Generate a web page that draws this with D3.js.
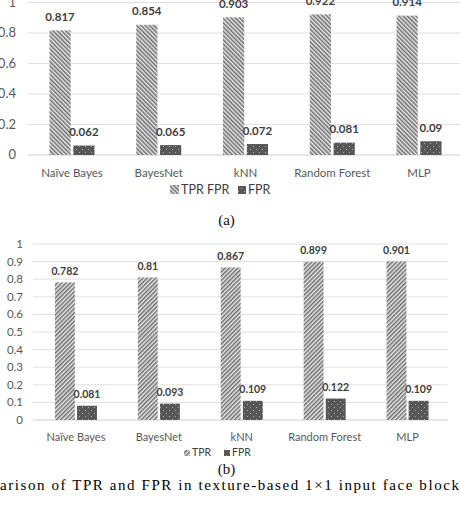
<!DOCTYPE html>
<html>
<head>
<meta charset="utf-8">
<script src="https://cdn.jsdelivr.net/npm/d3@7"></script>
<style>
  body { margin: 0; background: #fff; }
  svg { display: block; }
</style>
</head>
<body>
<div id="my_dataviz"></div>
<script>
// data
let categories = ["Naïve Bayes", "BayesNet", "kNN", "Random Forest", "MLP"];
let seriesNames = ["TPR", "FPR"];

// (a)
let tprA = [0.817, 0.854, 0.903, 0.922, 0.914];
let fprA = [0.062, 0.065, 0.072, 0.081, 0.09];
let ticksA = [0, 0.2, 0.4, 0.6, 0.8, 1];
let labelsA = ["0", "0.2", "0.4", "0.6", "0.8", "1"];

// (b)
let tprB = [0.782, 0.81, 0.867, 0.899, 0.901];
let fprB = [0.081, 0.093, 0.109, 0.122, 0.109];
let ticksB = [0, 0.1, 0.2, 0.3, 0.4, 0.5, 0.6, 0.7, 0.8, 0.9, 1];
let labelsB = ["0", "0.1", "0.2", "0.3", "0.4", "0.5", "0.6", "0.7", "0.8", "0.9", "1"];

let width = 460, height = 508;

let svg = d3.select("#my_dataviz")
    .append("svg")
    .attr("width", width)
    .attr("height", height);

// patterns
let defs = svg.append("defs");
function addHatch(id, angle) {
  let p = defs.append("pattern")
      .attr("id", id)
      .attr("patternUnits", "userSpaceOnUse")
      .attr("width", 3).attr("height", 3)
      .attr("patternTransform", "rotate(" + angle + ")");
  p.append("rect").attr("width", 3).attr("height", 3).attr("fill", "#e8e8e8");
  p.append("rect").attr("width", 1.5).attr("height", 3).attr("fill", "#6e6e6e");
}
addHatch("hatchA", -45);
addHatch("hatchB", 45);

let dots = defs.append("pattern")
    .attr("id", "dots")
    .attr("patternUnits", "userSpaceOnUse")
    .attr("width", 6).attr("height", 6);
dots.append("rect").attr("width", 6).attr("height", 6).attr("fill", "#575757");
dots.append("rect").attr("x", 1).attr("y", 2).attr("width", 1).attr("height", 1).attr("fill", "#aaa");
dots.append("rect").attr("x", 4).attr("y", 5).attr("width", 1).attr("height", 1).attr("fill", "#aaa");

function drawChart(cfg) {
  let g = svg.append("g");
  let fills = { TPR: "url(#" + cfg.hatch + ")", FPR: "url(#dots)" };

  let y = d3.scaleLinear().domain([0, 1]).range([cfg.y0, cfg.y1]);
  let x = d3.scaleBand().domain(categories).range(cfg.xRange);
  let half = cfg.groupW / 2;
  let x1 = d3.scaleBand().domain(seriesNames)
      .range([x.bandwidth() / 2 - half, x.bandwidth() / 2 + half])
      .paddingInner(cfg.inner);

  // gridlines
  g.selectAll(".grid")
    .data(cfg.ticks)
    .enter()
    .append("line")
    .attr("x1", cfg.gridX[0])
    .attr("x2", cfg.gridX[1])
    .attr("y1", d => y(d))
    .attr("y2", d => y(d))
    .attr("stroke", d => d === 0 ? "#cfcfcf" : "#e0e0e0")
    .attr("stroke-width", 1);

  // y labels
  g.selectAll(".ylab")
    .data(cfg.ticks)
    .enter()
    .append("text")
    .attr("x", cfg.labelX)
    .attr("y", d => y(d) + 4)
    .attr("text-anchor", "end")
    .style("font-family", "Lato, sans-serif")
    .style("font-size", cfg.tickSize + "px")
    .style("fill", "#595959")
    .text((d, i) => cfg.tickLabels[i]);

  let rows = [];
  categories.forEach((c, i) => {
    rows.push({ cat: c, s: "TPR", v: cfg.tpr[i] });
    rows.push({ cat: c, s: "FPR", v: cfg.fpr[i] });
  });

  // bars
  g.selectAll(".bar")
    .data(rows)
    .enter()
    .append("rect")
    .attr("x", d => x(d.cat) + x1(d.s))
    .attr("y", d => y(d.v))
    .attr("width", x1.bandwidth())
    .attr("height", d => y(0) - y(d.v))
    .attr("fill", d => fills[d.s]);

  // value labels
  g.selectAll(".val")
    .data(rows)
    .enter()
    .append("text")
    .attr("x", d => x(d.cat) + x1(d.s) + x1.bandwidth() / 2)
    .attr("y", d => y(d.v) - cfg.valGap)
    .attr("text-anchor", "middle")
    .style("font-family", "Lato, sans-serif")
    .style("font-weight", "bold")
    .style("font-size", cfg.valSize + "px")
    .style("fill", "#404040")
    .text(d => d.v);

  // category labels
  g.selectAll(".cat")
    .data(categories)
    .enter()
    .append("text")
    .attr("x", d => x(d) + x.bandwidth() / 2)
    .attr("y", cfg.catY)
    .attr("text-anchor", "middle")
    .style("font-family", "Lato, sans-serif")
    .style("font-size", cfg.catSize + "px")
    .style("fill", "#595959")
    .text(d => d);

  // legend
  let lg = g.append("g");
  cfg.legend.forEach(it => {
    lg.append("rect")
      .attr("x", it.x).attr("y", cfg.legY - it.size)
      .attr("width", it.size).attr("height", it.size)
      .attr("fill", fills[it.s]);
    lg.append("text")
      .attr("x", it.x + it.size + 2)
      .attr("y", cfg.legY)
      .style("font-family", "Lato, sans-serif")
      .style("font-size", cfg.legSize + "px")
      .style("fill", "#404040")
      .text(it.text);
  });

  // sub caption
  g.append("text")
    .attr("x", 226.5)
    .attr("y", cfg.capY)
    .attr("text-anchor", "middle")
    .style("font-family", "'Liberation Serif', serif")
    .style("font-size", "15px")
    .style("fill", "#111")
    .text(cfg.caption);
}

drawChart({
  tpr: tprA, fpr: fprA, ticks: ticksA, tickLabels: labelsA, hatch: "hatchA",
  y0: 155, y1: 2.5, xRange: [28.6, 462.4], gridX: [28, 460],
  groupW: 45, inner: 0.11, labelX: 16, tickSize: 13,
  valGap: 9.5, valSize: 11.5, catY: 176.5, catSize: 11.5,
  legY: 194, legSize: 12.5,
  legend: [{ s: "TPR", x: 170, size: 9, text: "TPR FPR" },
           { s: "FPR", x: 238, size: 8, text: "FPR" }],
  capY: 225, caption: "(a)"
});

drawChart({
  tpr: tprB, fpr: fprB, ticks: ticksB, tickLabels: labelsB, hatch: "hatchB",
  y0: 420, y1: 244, xRange: [34.5, 449], gridX: [33, 448],
  groupW: 42, inner: 0.1, labelX: 23, tickSize: 11.5,
  valGap: 7.5, valSize: 10.5, catY: 441, catSize: 11,
  legY: 456, legSize: 10.5,
  legend: [{ s: "TPR", x: 184, size: 6, text: "TPR" },
           { s: "FPR", x: 224, size: 6, text: "FPR" }],
  capY: 474, caption: "(b)"
});

// figure caption (cut on the left in the source)
svg.append("text")
  .attr("x", 0)
  .attr("y", 490)
  .attr("textLength", 459)
  .attr("lengthAdjust", "spacing")
  .style("font-family", "'Liberation Serif', serif")
  .style("font-size", "15px")
  .style("fill", "#000")
  .text("arison of TPR and FPR in texture-based 1×1 input face block");
</script>
</body>
</html>
